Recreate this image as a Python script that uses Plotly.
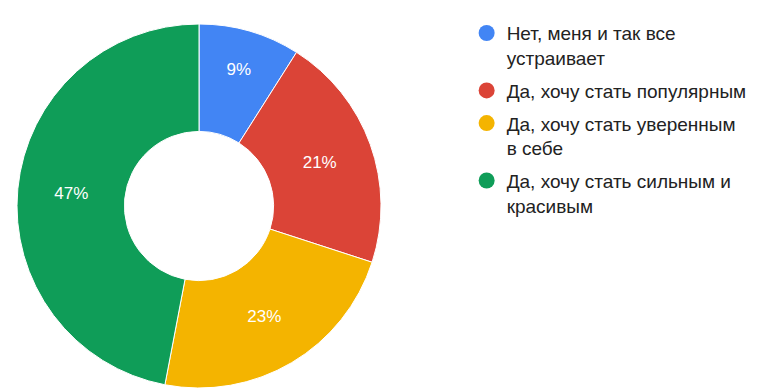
import plotly.graph_objects as go

# Survey answers and their shares (percent)
labels = [
    "Нет, меня и так все<br>устраивает",
    "Да, хочу стать популярным",
    "Да, хочу стать уверенным<br>в себе",
    "Да, хочу стать сильным и<br>красивым",
]
values = [9, 21, 23, 47]
colors = ["#4285F4", "#DB4437", "#F4B400", "#0F9D58"]

FONT = "Liberation Sans, Arial, sans-serif"

fig = go.Figure()

fig.add_trace(go.Pie(
    labels=labels,
    values=values,
    hole=0.41,
    sort=False,
    direction="clockwise",
    rotation=0,
    marker=dict(colors=colors, line=dict(color="white", width=1)),
    textinfo="percent",
    texttemplate="%{percent:.0%}",
    textposition="inside",
    insidetextorientation="horizontal",
    textfont=dict(color="white", size=17, family=FONT),
    showlegend=False,
    domain=dict(x=[0.0, 0.5237], y=[0, 1]),
))

# Circle-marker legend entries, one group per answer so the items get spaced apart
for i, (lab, col) in enumerate(zip(labels, colors)):
    fig.add_trace(go.Scatter(
        x=[None], y=[None], mode="markers", name=lab,
        legendgroup=f"g{i}",
        marker=dict(color=col, size=16, symbol="circle"),
    ))

fig.update_layout(
    width=760,
    height=388,
    margin=dict(l=0, r=0, t=24, b=0),
    paper_bgcolor="white",
    plot_bgcolor="white",
    xaxis=dict(visible=False),
    yaxis=dict(visible=False),
    font=dict(family=FONT, color="#222222"),
    legend=dict(
        x=0.614, y=1.027, xanchor="left", yanchor="top",
        font=dict(size=19, color="#222222"),
        itemsizing="trace",
        valign="top",
        traceorder="grouped",
        tracegroupgap=5,
        maxheight=380,
        bgcolor="rgba(0,0,0,0)",
    ),
)

fig.write_html("out.html")
